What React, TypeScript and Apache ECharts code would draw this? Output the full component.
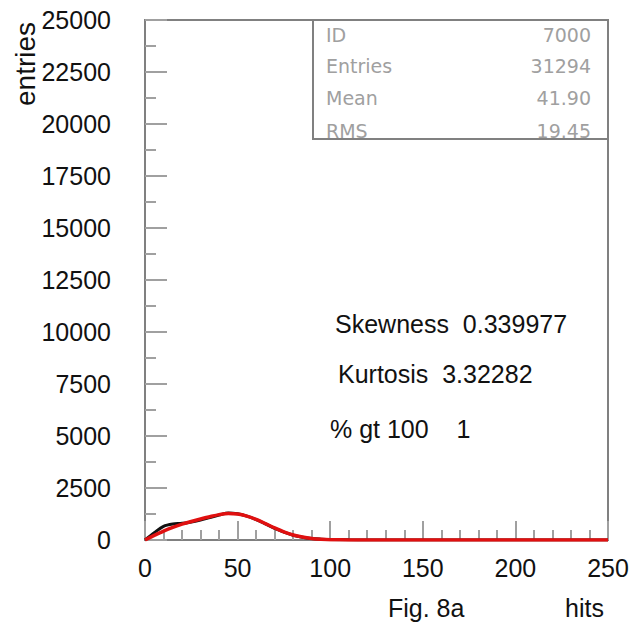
import React, { useEffect, useRef } from "react";
import * as echarts from "echarts";

const dataX = [0, 5, 10, 15, 20, 25, 30, 35, 40, 45, 50, 55, 60, 65, 70, 75, 80, 85, 90, 95, 100, 110, 120, 130, 140, 250];
const dataY = [0, 350, 660, 770, 800, 870, 960, 1080, 1200, 1300, 1260, 1150, 980, 780, 560, 380, 230, 130, 70, 40, 20, 8, 3, 1, 0, 0];
const fitX = [0, 5, 10, 15, 20, 25, 30, 35, 40, 45, 50, 55, 60, 65, 70, 75, 80, 85, 90, 95, 100, 110, 120, 130, 250];
const fitY = [0, 220, 430, 610, 760, 890, 1010, 1120, 1220, 1280, 1250, 1150, 990, 790, 580, 390, 240, 140, 75, 38, 18, 5, 1, 0, 0];

const statLabels = ["ID", "Entries", "Mean", "RMS"];
const statValues = ["7000", "31294", "41.90", "19.45"];
const notes = ["Skewness  0.339977", "Kurtosis  3.32282", "% gt 100    1"];

const FONT = "'Liberation Sans', Arial, Helvetica, sans-serif";

export default function App() {
  const ref = useRef<HTMLDivElement>(null);
  useEffect(() => {
    if (!ref.current) return;
    const chart = echarts.init(ref.current, undefined, { renderer: "svg" });
    const statRowsY = [35, 66, 98, 131];
    const graphics: any[] = [
      {
        type: "rect",
        shape: { x: 313, y: 20, width: 295, height: 119 },
        style: { fill: "#fff", stroke: "#808080", lineWidth: 2 },
        z: 10,
      },
    ];
    statLabels.forEach((l, i) => {
      graphics.push({
        type: "text",
        x: 326,
        y: statRowsY[i],
        style: { text: l, fill: "#a0a0a0", font: "19px 'DejaVu Sans', sans-serif", textVerticalAlign: "middle", textAlign: "left" },
        z: 11,
      });
      graphics.push({
        type: "text",
        x: 591,
        y: statRowsY[i],
        style: { text: statValues[i], fill: "#a0a0a0", font: "19px 'DejaVu Sans', sans-serif", textVerticalAlign: "middle", textAlign: "right" },
        z: 11,
      });
    });
    const noteX = [335, 338, 330];
    const noteY = [324, 374, 429];
    notes.forEach((n, i) => {
      graphics.push({
        type: "text",
        x: noteX[i],
        y: noteY[i],
        style: { text: n, fill: "#111", font: `25px ${FONT}`, textVerticalAlign: "middle", textAlign: "left" },
        z: 11,
      });
    });
    graphics.push({
      type: "text",
      x: 388,
      y: 608,
      style: { text: "Fig. 8a", fill: "#111", font: `25px ${FONT}`, textVerticalAlign: "middle", textAlign: "left" },
    });
    graphics.push({
      type: "text",
      x: 565,
      y: 608,
      style: { text: "hits", fill: "#111", font: `25px ${FONT}`, textVerticalAlign: "middle", textAlign: "left" },
    });
    graphics.push({
      type: "text",
      x: 25,
      y: 64,
      rotation: Math.PI / 2,
      style: { text: "entries", fill: "#111", font: `28px ${FONT}`, textVerticalAlign: "middle", textAlign: "center" },
    });

    chart.setOption({
      animation: false,
      backgroundColor: "#fff",
      grid: { left: 145, right: 25, top: 20, bottom: 82, show: true, borderColor: "#808080", borderWidth: 2 },
      xAxis: {
        type: "value",
        min: 0,
        max: 250,
        interval: 50,
        axisLine: { show: true, lineStyle: { color: "#808080", width: 2 } },
        axisTick: { show: true, inside: true, length: 19, lineStyle: { color: "#a0a0a0", width: 2 } },
        minorTick: { show: true, splitNumber: 5, length: 10, lineStyle: { color: "#a0a0a0", width: 2 } },
        splitLine: { show: false },
        axisLabel: { color: "#111", fontSize: 25, fontFamily: FONT, margin: 15, showMaxLabel: true, formatter: (v: number) => String(v) },
      },
      yAxis: {
        type: "value",
        min: 0,
        max: 25000,
        interval: 2500,
        axisLine: { show: true, lineStyle: { color: "#808080", width: 2 } },
        axisTick: { show: true, inside: true, length: 22, lineStyle: { color: "#a0a0a0", width: 2 } },
        minorTick: { show: true, splitNumber: 2, length: 11, lineStyle: { color: "#a0a0a0", width: 2 } },
        splitLine: { show: false },
        axisLabel: { color: "#111", fontSize: 25, fontFamily: FONT, margin: 34, formatter: (v: number) => String(v) },
      },
      series: [
        {
          type: "line",
          data: dataX.map((x, i) => [x, dataY[i]]),
          showSymbol: false,
          smooth: 0.3,
          lineStyle: { color: "#111", width: 3 },
          z: 2,
        },
        {
          type: "line",
          data: fitX.map((x, i) => [x, fitY[i]]),
          showSymbol: false,
          smooth: 0.3,
          lineStyle: { color: "#e01010", width: 3.5 },
          z: 3,
        },
      ],
      graphic: graphics,
    });
    return () => chart.dispose();
  }, []);
  return <div ref={ref} style={{ position: "fixed", left: 0, top: 0, width: 633, height: 622 }} />;
}
